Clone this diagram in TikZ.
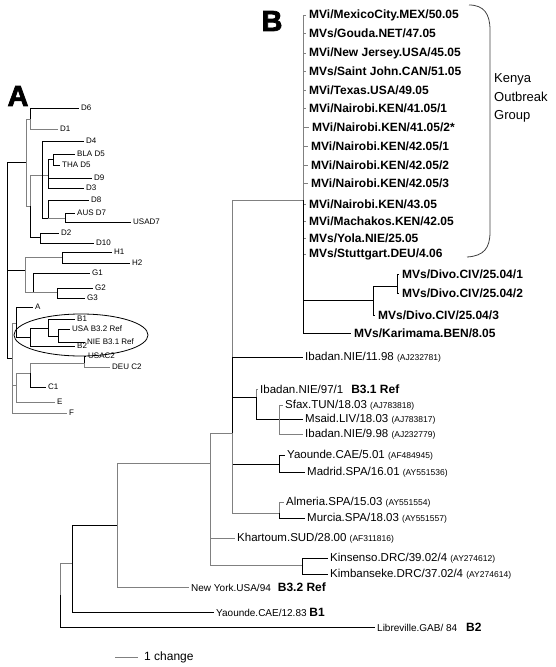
\documentclass[tikz,border=0pt]{standalone}
\usepackage{fontspec}
\usetikzlibrary{shapes.geometric}
\setmainfont{Liberation Sans}
\newfontfamily\heavyfont[FakeBold=2.5]{Liberation Sans Bold}

\newcommand{\acc}[1]{{\fontsize{8.5}{9}\selectfont (#1)}}
\newcommand{\tg}[1]{{\fontsize{12}{13}\selectfont\bfseries #1}}

\tikzset{
	blk/.style={draw=black, line width=0.95pt},
	gry/.style={draw=black!50, line width=0.95pt},
	leaf/.style={anchor=west, inner xsep=2pt, inner ysep=0pt, font=\fontsize{11.5}{12}\selectfont},
	kleaf/.style={leaf, inner xsep=3pt, font=\fontsize{12}{13}\selectfont\bfseries},
	sleaf/.style={leaf, font=\fontsize{10}{11}\selectfont},
	aleaf/.style={leaf, font=\fontsize{8}{9}\selectfont},
}

\begin{document}
\begin{tikzpicture}[x=1pt,y=-1pt]
		
		\useasboundingbox (0,0) rectangle (555,667);
		
		% Panel letters
		
		\node[inner sep=0pt, font=\heavyfont\fontsize{29}{29}\selectfont] 
		(panelA) at (18,96) {A};
		
		\node[inner sep=0pt, font=\heavyfont\fontsize{29}{29}\selectfont] 
		(panelB) at (272,21) {B};
		
		% Panel A: inner nodes
		
		\coordinate (aRoot) at (7,270);
		\coordinate (aDNode) at (26,162);
		\coordinate (aD61Node) at (30,119);
		\coordinate (aD30Node) at (30,206);
		\coordinate (aD4Node) at (42,175);
		\coordinate (aD9Node) at (48,175);
		\coordinate (aD5Node) at (53,159);
		\coordinate (aD8Node) at (48,218);
		\coordinate (aD7Node) at (65,218);
		\coordinate (aD2Node) at (40,237);
		\coordinate (aHNode) at (25,270);
		\coordinate (aH1Node) at (62,257);
		\coordinate (aGNode) at (33,292);
		\coordinate (aG2Node) at (57,292);
		\coordinate (aLowNode) at (12,358);
		\coordinate (aABNode) at (16,323);
		\coordinate (aBNode) at (30,337);
		\coordinate (aB1Node) at (48,328);
		\coordinate (aB3Node) at (58,336);
		\coordinate (aCENode) at (16,385);
		\coordinate (aCNode) at (30,373);
		\coordinate (aC2Node) at (84,363);
		
		% Panel A: leaves
		
		\node[aleaf] (aD6) at (79,108) {D6};
		\node[aleaf] (aD1) at (58,129) {D1};
		\node[aleaf] (aD4) at (84,141) {D4};
		\node[aleaf] (aBLA) at (75,154) {BLA D5};
		\node[aleaf] (aTHA) at (60,165) {THA D5};
		\node[aleaf] (aD9) at (92,178) {D9};
		\node[aleaf] (aD3) at (84,188) {D3};
		\node[aleaf] (aD8) at (89,200) {D8};
		\node[aleaf] (aAUS) at (75,213) {AUS D7};
		\node[aleaf] (aUSAD7) at (131,222) {USAD7};
		\node[aleaf] (aD2) at (59,233) {D2};
		\node[aleaf] (aD10) at (94,243) {D10};
		\node[aleaf] (aH1) at (112,252) {H1};
		\node[aleaf] (aH2) at (130,263) {H2};
		\node[aleaf] (aG1) at (90,273) {G1};
		\node[aleaf] (aG2) at (93,288) {G2};
		\node[aleaf] (aG3) at (85,298) {G3};
		\node[aleaf] (aA) at (33,307) {A};
		\node[aleaf] (aB1) at (75,319) {B1};
		\node[aleaf] (aUSAB) at (70,329) {USA B3.2 Ref};
		\node[aleaf] (aNIEB) at (85,342) {NIE B3.1 Ref};
		\node[aleaf] (aB2) at (75,346) {B2};
		\node[aleaf] (aUSAC2) at (86,356) {USAC2};
		\node[aleaf] (aDEUC2) at (110,367) {DEU C2};
		\node[aleaf] (aC1) at (46,387) {C1};
		\node[aleaf] (aE) at (55,402) {E};
		\node[aleaf] (aF) at (67,413) {F};
		
		% Panel A: branches
		
		\draw[blk] (aRoot) |- (aDNode);
		\draw[blk] (aRoot) |- (aHNode);
		\draw[blk] (aRoot) |- (aLowNode);
		\draw[gry] (aDNode) |- (aD61Node);
		\draw[gry] (aDNode) |- (aD30Node);
		\draw[blk] (aD61Node) |- (aD6);
		\draw[gry] (aD61Node) |- (aD1);
		\draw[gry] (aD30Node) |- (aD4Node);
		\draw[blk] (aD30Node) |- (aD2Node);
		\draw[blk] (aD4Node) |- (aD4);
		\draw[gry] (aD4Node) |- (aD9Node);
		\draw[blk] (aD4Node) |- (aD8Node);
		\draw[blk] (aD9Node) |- (aD5Node);
		\draw[blk] (aD9Node) |- (aD9);
		\draw[blk] (aD9Node) |- (aD3);
		\draw[blk] (aD5Node) |- (aBLA);
		\draw[blk] (aD5Node) |- (aTHA);
		\draw[blk] (aD8Node) |- (aD8);
		\draw[gry] (aD8Node) |- (aD7Node);
		\draw[blk] (aD7Node) |- (aAUS);
		\draw[blk] (aD7Node) |- (aUSAD7);
		\draw[blk] (aD2Node) |- (aD2);
		\draw[blk] (aD2Node) |- (aD10);
		\draw[gry] (aHNode) |- (aH1Node);
		\draw[gry] (aHNode) |- (aGNode);
		\draw[blk] (aH1Node) |- (aH1);
		\draw[blk] (aH1Node) |- (aH2);
		\draw[blk] (aGNode) |- (aG1);
		\draw[gry] (aGNode) |- (aG2Node);
		\draw[blk] (aG2Node) |- (aG2);
		\draw[blk] (aG2Node) |- (aG3);
		\draw[gry] (aLowNode) |- (aABNode);
		\draw[gry] (aLowNode) |- (aCENode);
		\draw[gry] (aLowNode) |- (aF);
		\draw[blk] (aABNode) |- (aA);
		\draw[blk] (aABNode) |- (aBNode);
		\draw[blk] (aBNode) |- (aB1Node);
		\draw[blk] (aBNode) |- (aB2);
		\draw[blk] (aB1Node) |- (aB1);
		\draw[blk] (aB1Node) |- (aB3Node);
		\draw[blk] (aB3Node) |- (aUSAB);
		\draw[blk] (aB3Node) |- (aNIEB);
		\draw[gry] (aCENode) |- (aCNode);
		\draw[gry] (aCENode) |- (aE);
		\draw[gry] (aCNode) |- (aC2Node);
		\draw[blk] (aCNode) |- (aC1);
		\draw[blk] (aC2Node) |- (aUSAC2);
		\draw[gry] (aC2Node) |- (aDEUC2);
		
		% Oval round the B clade
		
		\node[ellipse, draw, line width=0.8pt, minimum width=134, minimum height=42] 
		(bOval) at (81,335) {};
		
		% Panel B: inner nodes
		
		\coordinate (bRoot) at (60,595);
		\coordinate (b72Node) at (72,563);
		\coordinate (b117Node) at (117,525);
		\coordinate (b210Node) at (210,463);
		\coordinate (b232Node) at (232,433);
		\coordinate (kenyaNode) at (303,200);
		\coordinate (divoNode) at (373,300);
		\coordinate (divo12Node) at (397,286);
		\coordinate (ibadanNode) at (256,397);
		\coordinate (sfaxNode) at (279,419);
		\coordinate (madridNode) at (279,464);
		\coordinate (murciaNode) at (279,513);
		\coordinate (drcNode) at (302,565);
		
		% Panel B: Kenya outbreak group
		
		\node[kleaf] (mexLeaf) at (306,15) {MVi/MexicoCity.MEX/50.05};
		\node[kleaf] (goudaLeaf) at (306,33) {MVs/Gouda.NET/47.05};
		\node[kleaf] (jerseyLeaf) at (306,53) {MVi/New Jersey.USA/45.05};
		\node[kleaf] (johnLeaf) at (306,71) {MVs/Saint John.CAN/51.05};
		\node[kleaf] (texasLeaf) at (306,90) {MVi/Texas.USA/49.05};
		\node[kleaf] (nai1Leaf) at (306,108) {MVi/Nairobi.KEN/41.05/1};
		\node[kleaf] (nai2Leaf) at (309,127) {MVi/Nairobi.KEN/41.05/2*};
		\node[kleaf] (nai3Leaf) at (308,146) {MVi/Nairobi.KEN/42.05/1};
		\node[kleaf] (nai4Leaf) at (308,165) {MVi/Nairobi.KEN/42.05/2};
		\node[kleaf] (nai5Leaf) at (308,183) {MVi/Nairobi.KEN/42.05/3};
		\node[kleaf] (nai6Leaf) at (306,204) {MVi/Nairobi.KEN/43.05};
		\node[kleaf] (machLeaf) at (306,221) {MVi/Machakos.KEN/42.05};
		\node[kleaf] (yolaLeaf) at (306,238) {MVs/Yola.NIE/25.05};
		\node[kleaf] (stutLeaf) at (306,254) {MVs/Stuttgart.DEU/4.06};
		\node[kleaf] (divo1Leaf) at (399,274) {MVs/Divo.CIV/25.04/1};
		\node[kleaf] (divo2Leaf) at (399,293) {MVs/Divo.CIV/25.04/2};
		\node[kleaf] (divo3Leaf) at (375,315) {MVs/Divo.CIV/25.04/3};
		\node[kleaf] (kariLeaf) at (351,333) {MVs/Karimama.BEN/8.05};
		
		% Panel B: other leaves
		
		\node[leaf] (ib11Leaf) at (303,357) {Ibadan.NIE/11.98 \acc{AJ232781}};
		\node[leaf] (ib97Leaf) at (258,389) {Ibadan.NIE/97/1\hspace{8pt}\tg{B3.1 Ref}};
		\node[leaf] (sfaxLeaf) at (283,405) {Sfax.TUN/18.03 \acc{AJ783818}};
		\node[leaf] (msaidLeaf) at (303,419) {Msaid.LIV/18.03 \acc{AJ783817}};
		\node[leaf] (ib98Leaf) at (303,434) {Ibadan.NIE/9.98 \acc{AJ232779}};
		\node[leaf] (yao01Leaf) at (285,455) {Yaounde.CAE/5.01 \acc{AF484945}};
		\node[leaf] (madridLeaf) at (305,472) {Madrid.SPA/16.01 \acc{AY551536}};
		\node[leaf] (almLeaf) at (284,502) {Almeria.SPA/15.03 \acc{AY551554}};
		\node[leaf] (murciaLeaf) at (305,518) {Murcia.SPA/18.03 \acc{AY551557}};
		\node[leaf] (kharLeaf) at (235,538) {Khartoum.SUD/28.00 \acc{AF311816}};
		\node[leaf] (kinLeaf) at (328,558) {Kinsenso.DRC/39.02/4 \acc{AY274612}};
		\node[leaf] (kimLeaf) at (328,574) {Kimbanseke.DRC/37.02/4 \acc{AY274614}};
		\node[sleaf] (nyLeaf) at (189,587) {New York.USA/94\hspace{7pt}\tg{B3.2 Ref}};
		\node[sleaf] (yao83Leaf) at (214,612) {Yaounde.CAE/12.83 \tg{B1}};
		\node[sleaf] (libLeaf) at (375,627) {Libreville.GAB/ 84\hspace{9pt}\tg{B2}};
		
		% Panel B: branches
		
		\draw[gry] (bRoot) |- (b72Node);
		\draw[blk] (bRoot) |- (libLeaf);
		\draw[blk] (b72Node) |- (b117Node);
		\draw[blk] (b72Node) |- (yao83Leaf);
		\draw[gry] (b117Node) |- (b210Node);
		\draw[gry] (b117Node) |- (nyLeaf);
		\draw[gry] (b210Node) |- (b232Node);
		\draw[gry] (b210Node) |- (kharLeaf);
		\draw[gry] (b210Node) |- (drcNode);
		\draw[blk] (drcNode) |- (kinLeaf);
		\draw[blk] (drcNode) |- (kimLeaf);
		\draw[gry] (b232Node) |- (kenyaNode);
		\draw[blk] (b232Node) |- (ib11Leaf);
		\draw[blk] (b232Node) |- (ibadanNode);
		\draw[blk] (b232Node) |- (madridNode);
		\draw[gry] (b232Node) |- (murciaNode);
		\draw[gry] (ibadanNode) |- (ib97Leaf);
		\draw[blk] (ibadanNode) |- (sfaxNode);
		\draw[gry] (sfaxNode) |- (sfaxLeaf);
		\draw[blk] (sfaxNode) |- (msaidLeaf);
		\draw[gry] (sfaxNode) |- (ib98Leaf);
		\draw[blk] (madridNode) |- (yao01Leaf);
		\draw[blk] (madridNode) |- (madridLeaf);
		\draw[gry] (murciaNode) |- (almLeaf);
		\draw[blk] (murciaNode) |- (murciaLeaf);
		
		% Kenya group and Divo
		
		\foreach \k in {mexLeaf,goudaLeaf,jerseyLeaf,johnLeaf,texasLeaf,nai1Leaf,nai2Leaf,nai3Leaf,nai4Leaf,nai5Leaf,nai6Leaf,machLeaf,yolaLeaf,stutLeaf}
			\draw[gry] (kenyaNode) |- (\k.west);
		\draw[blk] (kenyaNode) |- (divoNode);
		\draw[blk] (kenyaNode) |- (kariLeaf);
		\draw[blk] (divoNode) |- (divo12Node);
		\draw[blk] (divoNode) |- (divo3Leaf);
		\draw[blk] (divo12Node) |- (divo1Leaf);
		\draw[blk] (divo12Node) |- (divo2Leaf);
		
		% Bracket
		
		\draw[line width=0.8pt, black!75] (469,5) .. controls (484,5) and (490,14) .. (490,30) 
		-- (490,232) .. controls (490,248) and (484,256) .. (467,257);
		\node[anchor=west, align=left, inner sep=0pt, font=\fontsize{13}{18.5}\selectfont] 
		(kenyaLabel) at (494,98) {Kenya\\Outbreak\\Group};
		
		% Scale
		
		\coordinate (scaleStart) at (115,657);
		\node[anchor=west, inner xsep=6pt, font=\fontsize{12}{13}\selectfont] 
		(scaleLabel) at (138,657) {1 change};
		\draw[gry] (scaleStart) -- (scaleLabel.west);
		
	\end{tikzpicture}
\end{document}
